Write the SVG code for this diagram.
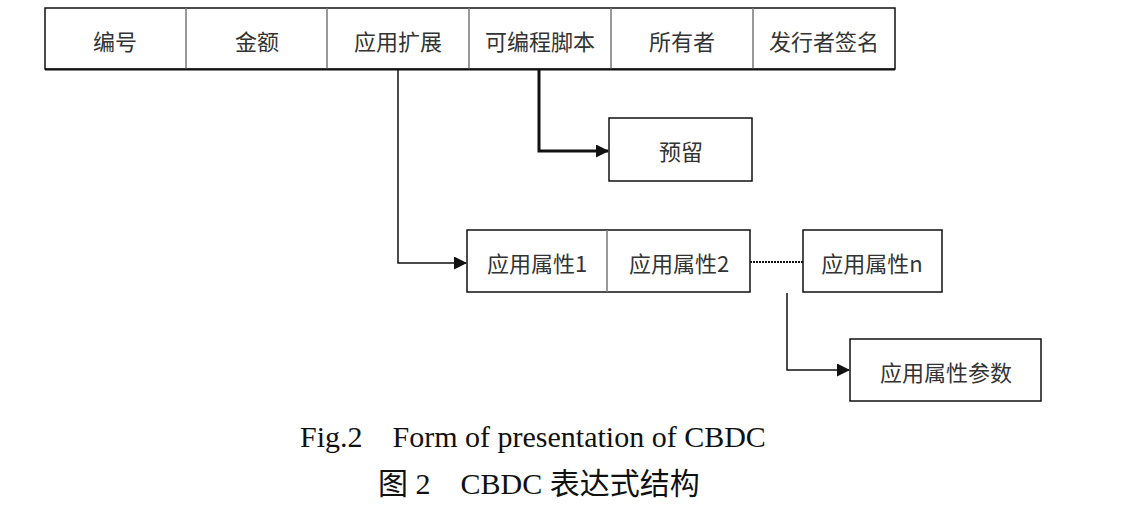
<svg xmlns="http://www.w3.org/2000/svg" width="1144" height="511" viewBox="0 0 1144 511">
<defs>
<style>
.box{fill:#fff;stroke:#111;stroke-width:1.5}
.div{stroke:#777;stroke-width:1.5}
.t{font-family:"Noto Sans CJK SC","Liberation Sans",sans-serif;font-size:22px;fill:#333;text-anchor:middle;dominant-baseline:central}
.cap{font-family:"Liberation Serif","Noto Sans CJK SC",serif;font-size:30px;fill:#111;white-space:pre}
.ln{fill:none;stroke:#111;stroke-width:1.5}
</style>
<marker id="arr" markerWidth="13" markerHeight="13" refX="12" refY="6.5" orient="auto" markerUnits="userSpaceOnUse">
<path d="M0,0 L13,6.5 L0,13 Z" fill="#111"/>
</marker>
</defs>
<g id="top-row">
<rect class="box" x="45" y="8" width="850" height="61"/>
<line class="div" x1="186" y1="8" x2="186" y2="69"/>
<line class="div" x1="327" y1="8" x2="327" y2="69"/>
<line class="div" x1="469" y1="8" x2="469" y2="69"/>
<line class="div" x1="611" y1="8" x2="611" y2="69"/>
<line class="div" x1="753" y1="8" x2="753" y2="69"/>
<line x1="45" y1="69.5" x2="895" y2="69.5" stroke="#111" stroke-width="2"/>
<text class="t" x="115" y="40">编号</text>
<text class="t" x="257" y="40">金额</text>
<text class="t" x="398" y="40">应用扩展</text>
<text class="t" x="540" y="40">可编程脚本</text>
<text class="t" x="682" y="40">所有者</text>
<text class="t" x="824" y="40">发行者签名</text>
</g>
<g id="node-reserved">
<rect class="box" x="609" y="118" width="143" height="63"/>
<text class="t" x="681" y="150">预留</text>
</g>
<g id="node-attr12">
<rect class="box" x="467" y="230" width="283" height="62"/>
<line class="div" x1="607" y1="230" x2="607" y2="292"/>
<text class="t" x="537" y="262">应用属性1</text>
<text class="t" x="679" y="262">应用属性2</text>
</g>
<g id="node-attrn">
<rect class="box" x="803" y="230" width="139" height="62"/>
<text class="t" x="872" y="262">应用属性n</text>
</g>
<g id="node-params">
<rect class="box" x="850" y="339" width="191" height="62"/>
<text class="t" x="946" y="371">应用属性参数</text>
</g>
<g id="connectors">
<path class="ln" d="M398,70 V263 H466" marker-end="url(#arr)"/>
<path class="ln" d="M539,70 V151 H608" marker-end="url(#arr)" style="stroke-width:3"/>
<path d="M750,262 H803" fill="none" stroke="#111" stroke-width="2" stroke-dasharray="2,1"/>
<path class="ln" d="M787,293 V370 H849" marker-end="url(#arr)"/>
</g>
<g id="captions">
<text class="cap" x="300" y="447" xml:space="preserve">Fig.2    Form of presentation of CBDC</text>
<text class="cap" x="378" y="494" xml:space="preserve">图 2    CBDC 表达式结构</text>
</g>
</svg>
